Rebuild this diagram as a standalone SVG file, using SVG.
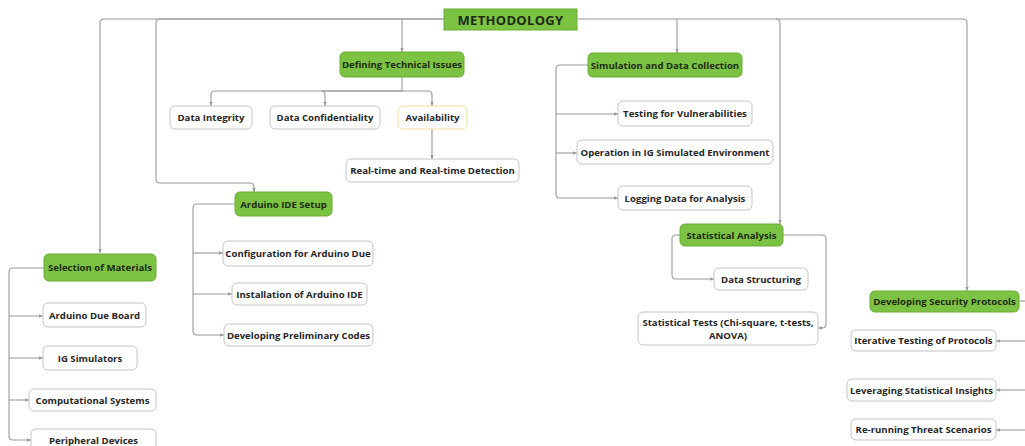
<svg xmlns="http://www.w3.org/2000/svg" width="1025" height="446" viewBox="0 0 1025 446">
<style>
.bg{fill:#ffffff}
.g rect.n{fill:#7cc243;stroke:#68ad35;stroke-width:1}
.w rect.n{fill:#ffffff;stroke:#c4c4c4;stroke-width:1}
.y rect.n{fill:#ffffff;stroke:#f3df9a;stroke-width:1}
text{font-family:"Open Sans","Noto Sans","Liberation Sans",sans-serif;font-weight:bold;font-size:9.6px;fill:#262626;text-anchor:middle;dominant-baseline:central}
.g text{fill:#1f2a14}
.root text{font-size:13px;letter-spacing:0.3px}
#connectors path{fill:none;stroke:#9a9a9a;stroke-width:1.1}
</style>
<defs>
<marker id="ah" markerUnits="userSpaceOnUse" markerWidth="5" markerHeight="5" refX="4" refY="2.5" orient="auto">
<path d="M0,0.8 L4,2.5 L0,4.2 z" fill="#9a9a9a"/>
</marker>
</defs>
<rect class="bg" x="0" y="0" width="1025" height="446"/>

<g id="connectors">
<path d="M444,19 H104 Q100,19 100,23 V253" marker-end="url(#ah)"/>
<path d="M444,19 H160 Q156,19 156,23 V179 Q156,183 160,183 H250 Q254,183 254,187 V192" marker-end="url(#ah)"/>
<path d="M402,19 V52" marker-end="url(#ah)"/>
<path d="M577,19 H963 Q967,19 967,23 V291" marker-end="url(#ah)"/>
<path d="M677,19 V53" marker-end="url(#ah)"/>
<path d="M776,19 Q780,19 780,23 V224" marker-end="url(#ah)"/>

<path d="M402,77 V91 H215 Q211,91 211,95 V106" marker-end="url(#ah)"/>
<path d="M402,91 H321 Q325,91 325,95 V106" marker-end="url(#ah)"/>
<path d="M402,91 H428 Q432,91 432,95 V106" marker-end="url(#ah)"/>
<path d="M432,129 V159" marker-end="url(#ah)"/>

<path d="M588,65 H560 Q556,65 556,69 V194 Q556,198 560,198 H618" marker-end="url(#ah)"/>
<path d="M556,114 H618" marker-end="url(#ah)"/>
<path d="M556,153 H577" marker-end="url(#ah)"/>

<path d="M235,204 H197 Q193,204 193,208 V331 Q193,335 197,335 H224" marker-end="url(#ah)"/>
<path d="M193,253 H223" marker-end="url(#ah)"/>
<path d="M193,294 H232" marker-end="url(#ah)"/>

<path d="M44,268 H13 Q9,268 9,272 V436 Q9,440 13,440 H31" marker-end="url(#ah)"/>
<path d="M9,316 H43" marker-end="url(#ah)"/>
<path d="M9,358 H43" marker-end="url(#ah)"/>
<path d="M9,400 H29" marker-end="url(#ah)"/>

<path d="M680,235 H676 Q672,235 672,239 V275 Q672,279 676,279 H714" marker-end="url(#ah)"/>
<path d="M783,235 H822 Q826,235 826,239 V324 Q826,328 822,328 H818" marker-end="url(#ah)"/>

<path d="M1019,301 H1025"/>
<path d="M1025,341 H996" marker-end="url(#ah)"/>
<path d="M1025,390 H996" marker-end="url(#ah)"/>
<path d="M1025,430 H996" marker-end="url(#ah)"/>
</g>

<g id="methodology" class="g root"><rect class="n" x="444" y="9" width="133" height="21"/><text x="510.5" y="19.5">METHODOLOGY</text></g>

<g id="defining" class="g"><rect class="n" x="340" y="52" width="124" height="25" rx="5"/><text x="402" y="64.5">Defining Technical Issues</text></g>
<g id="integrity" class="w"><rect class="n" x="170" y="106" width="82" height="23" rx="5"/><text x="211" y="117.5">Data Integrity</text></g>
<g id="confidentiality" class="w"><rect class="n" x="270" y="106" width="110" height="23" rx="5"/><text x="325" y="117.5">Data Confidentiality</text></g>
<g id="availability" class="y"><rect class="n" x="398" y="106" width="69" height="23" rx="5"/><text x="432.5" y="117.5">Availability</text></g>
<g id="realtime" class="w"><rect class="n" x="346" y="159" width="173" height="23" rx="5"/><text x="432.5" y="170.5">Real-time and Real-time Detection</text></g>

<g id="simulation" class="g"><rect class="n" x="588" y="53" width="154" height="24" rx="5"/><text x="665" y="65">Simulation and Data Collection</text></g>
<g id="testing" class="w"><rect class="n" x="618" y="101" width="134" height="25" rx="5"/><text x="685" y="113.5">Testing for Vulnerabilities</text></g>
<g id="operation" class="w"><rect class="n" x="577" y="140" width="196" height="24" rx="5"/><text x="675" y="152">Operation in IG Simulated Environment</text></g>
<g id="logging" class="w"><rect class="n" x="618" y="186" width="134" height="24" rx="5"/><text x="685" y="198">Logging Data for Analysis</text></g>

<g id="arduino-setup" class="g"><rect class="n" x="235" y="192" width="97" height="24" rx="5"/><text x="283.5" y="204">Arduino IDE Setup</text></g>
<g id="configuration" class="w"><rect class="n" x="223" y="241" width="150" height="25" rx="5"/><text x="298" y="253.5">Configuration for Arduino Due</text></g>
<g id="installation" class="w"><rect class="n" x="232" y="283" width="135" height="22" rx="5"/><text x="299.5" y="294">Installation of Arduino IDE</text></g>
<g id="preliminary" class="w"><rect class="n" x="224" y="324" width="149" height="22" rx="5"/><text x="298.5" y="335">Developing Preliminary Codes</text></g>

<g id="selection" class="g"><rect class="n" x="44" y="254" width="112" height="27" rx="5"/><text x="100" y="267.5">Selection of Materials</text></g>
<g id="due-board" class="w"><rect class="n" x="43" y="303" width="103" height="24" rx="5"/><text x="94.5" y="315.5">Arduino Due Board</text></g>
<g id="ig-sim" class="w"><rect class="n" x="43" y="346" width="94" height="24" rx="5"/><text x="90" y="358">IG Simulators</text></g>
<g id="computational" class="w"><rect class="n" x="29" y="389" width="127" height="22" rx="5"/><text x="92.5" y="400">Computational Systems</text></g>
<g id="peripheral" class="w"><rect class="n" x="31" y="429" width="125" height="24" rx="5"/><text x="93.5" y="440">Peripheral Devices</text></g>

<g id="statistical" class="g"><rect class="n" x="680" y="224" width="103" height="22" rx="5"/><text x="731.5" y="235">Statistical Analysis</text></g>
<g id="structuring" class="w"><rect class="n" x="714" y="268" width="94" height="22" rx="5"/><text x="761" y="279">Data Structuring</text></g>
<g id="stat-tests" class="w"><rect class="n" x="638" y="312" width="180" height="33" rx="5"/><text x="728" y="322">Statistical Tests (Chi-square, t-tests,</text><text x="728" y="335">ANOVA)</text></g>

<g id="security" class="g"><rect class="n" x="870" y="291" width="149" height="21" rx="5"/><text x="944.5" y="301.5">Developing Security Protocols</text></g>
<g id="iterative" class="w"><rect class="n" x="851" y="330" width="145" height="21" rx="5"/><text x="923.5" y="340.5">Iterative Testing of Protocols</text></g>
<g id="leveraging" class="w"><rect class="n" x="847" y="379" width="149" height="22" rx="5"/><text x="921.5" y="390">Leveraging Statistical Insights</text></g>
<g id="rerunning" class="w"><rect class="n" x="851" y="419" width="145" height="21" rx="5"/><text x="923.5" y="429.5">Re-running Threat Scenarios</text></g>
</svg>
